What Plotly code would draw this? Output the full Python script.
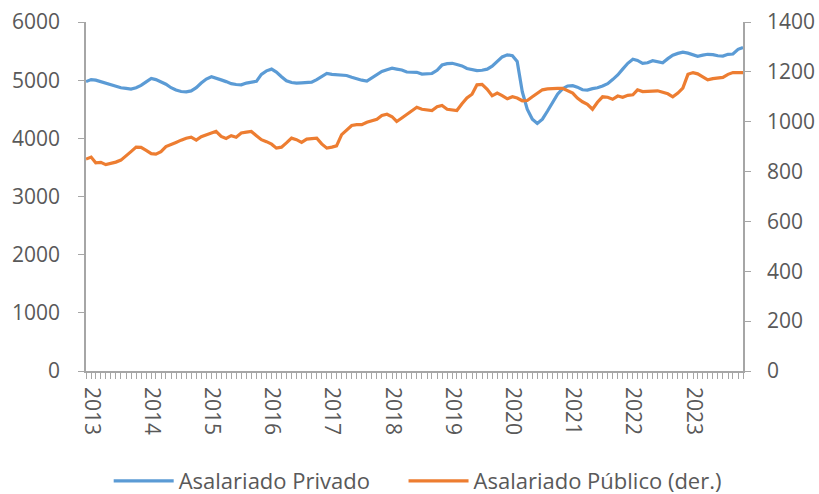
import pandas as pd
import plotly.graph_objects as go

months = pd.date_range("2013-01-01", "2023-12-01", freq="MS")
years = [str(y) for y in range(2013, 2024)]

privado = [
    4975, 5010, 5000, 4975, 4950, 4920, 4890, 4870, 4860, 4848, 4870, 4910,
    4970, 5030, 5010, 4975, 4930, 4870, 4830, 4805, 4800, 4815, 4870, 4950,
    5020, 5060, 5040, 5005, 4975, 4940, 4925, 4920, 4950, 4965, 4980, 5100,
    5160, 5190, 5140, 5060, 4990, 4960, 4950, 4955, 4960, 4965, 5010, 5060,
    5115, 5100, 5090, 5085, 5080, 5050, 5020, 5000, 4985, 5040, 5100, 5150,
    5180, 5205, 5190, 5175, 5140, 5140, 5135, 5105, 5110, 5115, 5170, 5260,
    5285, 5290, 5270, 5245, 5200, 5180, 5165, 5170, 5190, 5240, 5320, 5400,
    5435, 5420, 5320, 4800, 4500, 4330, 4255, 4330, 4470, 4620, 4760, 4850,
    4900, 4905, 4880, 4835, 4830, 4855, 4870, 4900, 4940, 5010, 5090, 5190,
    5290, 5360, 5340, 5290, 5300, 5335, 5320, 5300, 5370, 5430, 5460, 5480,
    5465, 5430, 5410, 5430, 5445, 5440, 5420, 5415, 5445, 5450, 5530, 5560,
]

publico = [
    850, 858, 835, 837, 828, 832, 838, 846, 862, 880, 898, 897,
    885, 872, 870, 880, 900, 910, 917, 926, 934, 938, 926, 940,
    946, 955, 961, 941, 933, 944, 938, 955, 958, 961, 944, 928,
    920, 910, 894, 898, 915, 934, 928, 917, 930, 932, 934, 911,
    894, 898, 903, 948, 965, 985, 988, 988, 998, 1005, 1010, 1025,
    1030, 1020, 1001, 1015, 1030, 1045, 1058, 1050, 1046, 1045, 1060, 1065,
    1050, 1046, 1045, 1072, 1095, 1110, 1148, 1150, 1130, 1104, 1115, 1105,
    1092, 1100, 1095, 1084, 1085, 1100, 1115, 1128, 1132, 1134, 1134, 1134,
    1125, 1115, 1095, 1080, 1070, 1050, 1078, 1100, 1098, 1090, 1103, 1098,
    1106, 1108, 1128, 1121, 1122, 1123, 1124, 1118, 1112, 1100, 1115, 1135,
    1190, 1197, 1192, 1180, 1168, 1173, 1176, 1178, 1190, 1197, 1197, 1197,
]

BLUE = "#5B9BD5"
ORANGE = "#ED7D31"
AXIS = "#A6A6A6"
TXT = "#595959"
FONT = "Open Sans"
GAP = "\u00a0" * 5

fig = go.Figure()
fig.add_trace(go.Scatter(x=months, y=privado, mode="lines", name="Asalariado Privado" + GAP,
                         line=dict(color=BLUE, width=3.2)))
fig.add_trace(go.Scatter(x=months, y=publico, mode="lines", name="Asalariado Público (der.)",
                         line=dict(color=ORANGE, width=3.2), yaxis="y2"))

# label positions: Excel centres each year label slightly after January
label_pos = [pd.Timestamp(f"{y}-02-03") for y in years]

fig.update_layout(
    width=819, height=494,
    margin=dict(l=86, r=76, t=22, b=123),
    paper_bgcolor="white", plot_bgcolor="white",
    font=dict(family=FONT, size=21, color=TXT),
    showlegend=True,
    legend=dict(orientation="h", xref="container", yref="container",
                x=0.51, xanchor="center", y=13 / 494, yanchor="middle",
                itemwidth=60, font=dict(size=22, color=TXT), traceorder="normal"),
    xaxis=dict(
        range=[months[0], months[-1]],
        tickvals=label_pos,
        ticktext=years,
        tickangle=90,
        showline=True, linecolor=AXIS, linewidth=1.5,
        ticks="",
        minor=dict(tick0="2013-01-01", dtick="M1", ticks="outside", ticklen=6,
                   tickcolor=AXIS, tickwidth=1, showgrid=False),
        showgrid=False, zeroline=False, automargin=False,
        tickfont=dict(size=21, color=TXT),
        ticklabelstandoff=10,
    ),
    yaxis=dict(
        range=[0, 6000], dtick=1000,
        showline=True, linecolor=AXIS, linewidth=1.5,
        ticks="outside", ticklen=6, tickcolor=AXIS,
        showgrid=False, zeroline=False, automargin=False,
        tickfont=dict(size=21, color=TXT),
        ticklabelstandoff=14,
    ),
    yaxis2=dict(
        range=[0, 1400], dtick=200, overlaying="y", side="right",
        showline=True, linecolor=AXIS, linewidth=1.5,
        ticks="outside", ticklen=6, tickcolor=AXIS,
        showgrid=False, zeroline=False, automargin=False,
        tickfont=dict(size=21, color=TXT),
        ticklabelstandoff=12,
    ),
)

fig.write_html("out.html", config={"displayModeBar": False},
               post_script="document.body.style.margin='0';")
